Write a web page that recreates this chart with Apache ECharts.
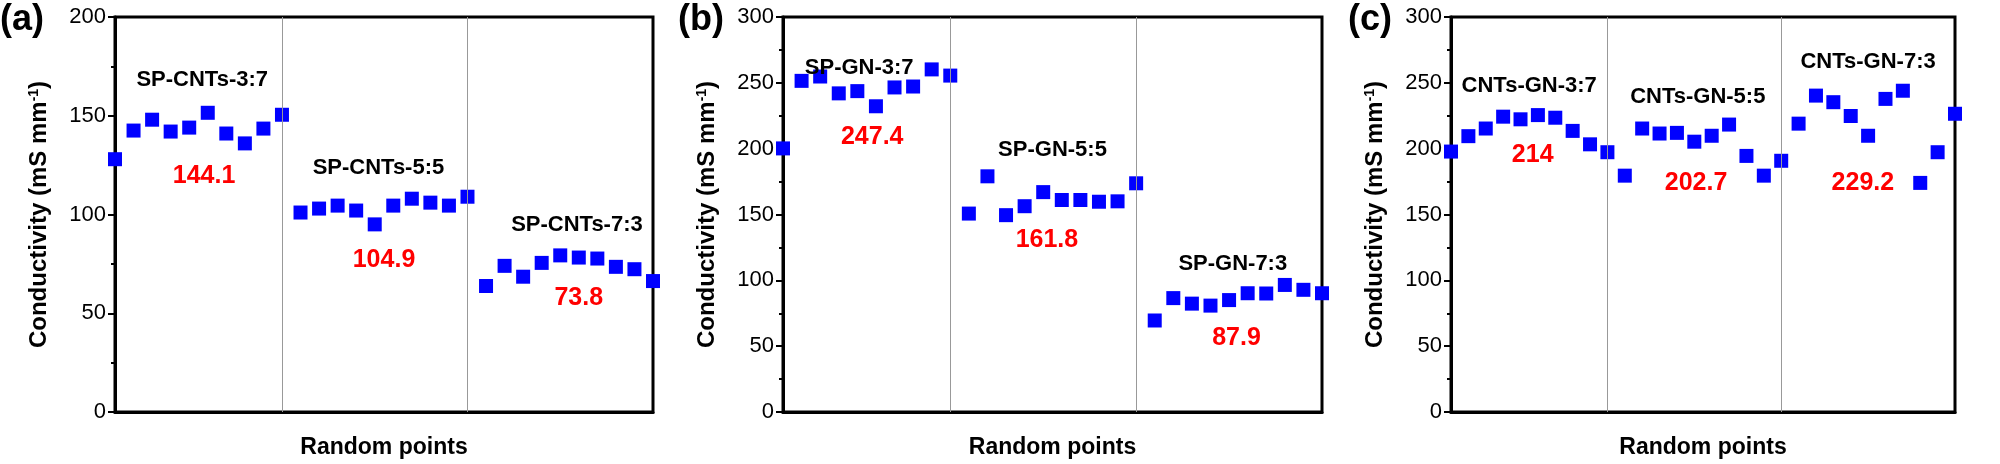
<!DOCTYPE html><html><head><meta charset="utf-8">
<script src="https://cdn.jsdelivr.net/npm/echarts@6/dist/echarts.min.js"></script>
<style>html,body{margin:0;padding:0;background:#fff}#c{width:2000px;height:464px}</style></head><body><div id="c"></div>
<script>
const aValues = [128,142.5,148,142,144,151.5,141,136,143.5,150.5, 101,103,104.5,102,95,104.5,108,106,104.5,109, 63.8,74,68.5,75.5,79.3,78.2,77.7,73.5,72.3,66.3];
const bValues = [200.2,251.5,254.8,242,243.7,232.2,246.5,247.2,260.2,255.5, 150.7,179,149.5,156.3,167,161,161,159.7,160,173.7, 69.5,86.5,82.3,80.8,85,90.2,90,96.5,92.8,90.2];
const cValues = [197.8,209.5,215.3,224.3,222.3,225.5,223.5,213.5,203.3,197.3, 179.5,215.3,211.5,212,205.3,209.8,218.3,194.5,179.5,190.8, 219,240.3,235.3,224.8,209.8,237.8,244,174,197.3,226.5];
const aNames = [["SP-CNTs-3:7",4.7,168],["SP-CNTs-5:5",14.2,123.5],["SP-CNTs-7:3",24.9,94.5]];
const aMeans = [["144.1",4.8,119.5],["104.9",14.5,77],["73.8",25,57.5]];
const bNames = [["SP-GN-3:7",4.1,261],["SP-GN-5:5",14.5,199],["SP-GN-7:3",24.2,112.5]];
const bMeans = [["247.4",4.8,209],["161.8",14.2,130.5],["87.9",24.4,56]];
const cNames = [["CNTs-GN-3:7",4.5,247.5],["CNTs-GN-5:5",14.2,239],["CNTs-GN-7:3",24,266]];
const cMeans = [["214",4.7,195],["202.7",14.1,174],["229.2",23.7,174]];
const dividers = [9,19];
const yMax = [200,300,300];

const grids=[{left:115,width:538},{left:783,width:539},{left:1451,width:504}];
const panels=[[aValues,aNames,aMeans],[bValues,bNames,bMeans],[cValues,cNames,cMeans]];
const F='"Liberation Sans", Arial, sans-serif';
const option={animation:false,grid:[],xAxis:[],yAxis:[],series:[],graphic:[]};
grids.forEach((g,i)=>{
  option.grid.push({left:g.left,width:g.width,top:17,bottom:47,show:true,borderColor:'#000',borderWidth:3});
  option.xAxis.push({gridIndex:i,type:'value',min:0,max:29,axisLabel:{show:false},axisTick:{show:false},splitLine:{show:false},
    axisLine:{lineStyle:{color:'#000',width:3}},name:'Random points',nameLocation:'middle',nameGap:24,
    nameTextStyle:{fontFamily:F,fontWeight:'bold',fontSize:23,color:'#000'}});
  option.yAxis.push({gridIndex:i,type:'value',min:0,max:yMax[i],interval:50,splitLine:{show:false},
    axisLine:{lineStyle:{color:'#000',width:3}},axisTick:{length:7,lineStyle:{width:2}},
    minorTick:{show:true,splitNumber:2,length:4,lineStyle:{color:'#000',width:2}},
    axisLabel:{fontFamily:F,fontSize:22,color:'#000',margin:9},
    name:'{a|Conductivity (mS mm}{s|-1}{a|)}',nameLocation:'middle',nameGap:64,
    nameTextStyle:{rich:{a:{fontFamily:F,fontWeight:'bold',fontSize:24,color:'#000'},s:{fontFamily:F,fontWeight:'bold',fontSize:14,color:'#000',verticalAlign:'top',padding:[0,0,10,0]}}}});
  const [vals,names,means]=panels[i];
  option.series.push({type:'scatter',xAxisIndex:i,yAxisIndex:i,symbol:'rect',symbolSize:14,clip:true,
    itemStyle:{color:'#0000ff',opacity:1},data:vals.map((v,k)=>[k,v]),
    markLine:{silent:true,symbol:'none',label:{show:false},lineStyle:{color:'#999',width:1,type:'solid',opacity:1},data:dividers.map(d=>({xAxis:d}))}});
  const lab=(arr,color,size)=>({type:'scatter',xAxisIndex:i,yAxisIndex:i,symbolSize:0,clip:false,z:5,
    itemStyle:{opacity:1},
    data:arr.map(t=>({value:[t[1],t[2]],name:t[0]})),
    label:{show:true,position:'inside',opacity:1,formatter:p=>p.name,fontFamily:F,fontWeight:'bold',fontSize:size,color:color}});
  option.series.push(lab(names,'#000',22));
  option.series.push(lab(means,'#ff0000',25));
});
[['(a)',20],['(b)',700],['(c)',1370]].forEach(([t,x])=>option.graphic.push({type:'text',left:x-22,top:2,style:{text:t,font:'bold 36px '+F,fill:'#000'}}));
option.graphic[0].left=0;
echarts.init(document.getElementById('c')).setOption(option);
</script></body></html>
